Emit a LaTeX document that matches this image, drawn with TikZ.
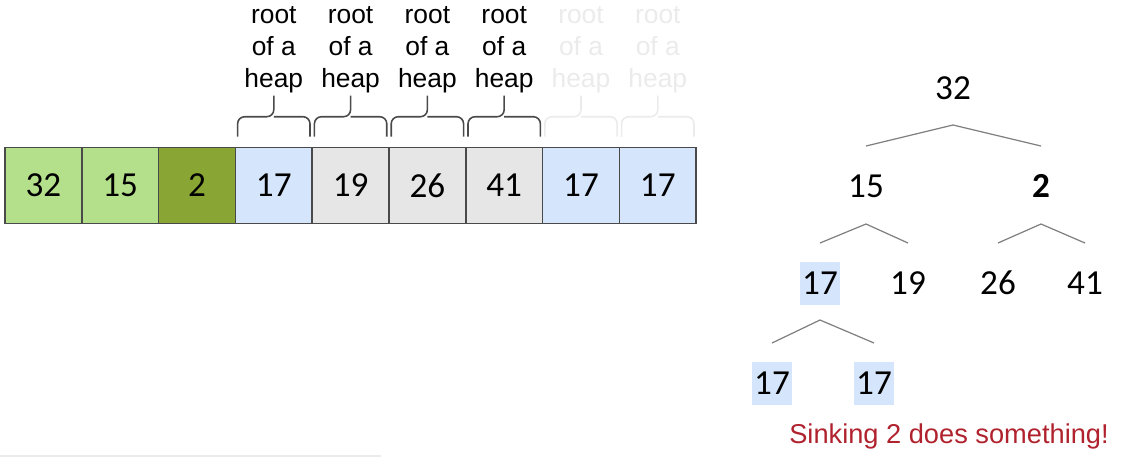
\documentclass[tikz,border=0pt]{standalone}
\usepackage{fontspec}
\setmainfont{Liberation Sans}
\newfontfamily\numfont{Carlito}
\usepackage{tikz}
\usetikzlibrary{positioning, calc}

\definecolor{cellgreen}{HTML}{B5E08B}
\definecolor{cellolive}{HTML}{89A634}
\definecolor{cellblue}{HTML}{D5E5FB}
\definecolor{cellgray}{HTML}{E6E6E6}
\definecolor{bordergray}{HTML}{4A4A4A}
\definecolor{fadegray}{HTML}{EBEBEB}
\definecolor{sinkred}{HTML}{B0232E}

\tikzset{
  cell/.style={rectangle, draw=bordergray, line width=0.9pt, minimum width=1.536cm, minimum height=1.52cm, inner sep=0pt, font=\numfont\fontsize{20}{24}\selectfont},
  heaplabel/.style={align=center, inner sep=0pt, font=\fontsize{15}{18.3}\selectfont},
  bracket/.style={draw=bordergray, line width=0.9pt, rounded corners=4pt},
  key/.style={inner sep=1pt, minimum width=0.7cm, minimum height=0.86cm, font=\numfont\fontsize{20}{24}\selectfont},
  hilite/.style={key, fill=cellblue},
  edge/.style={draw=gray, line width=0.7pt}
}

\begin{document}
\begin{tikzpicture}[x=0.02cm, y=-0.02cm]
  \useasboundingbox (0,0) rectangle (1130,458);

  % Array
  \foreach \val/\col [count=\i] in {32/cellgreen, 15/cellgreen, 2/cellolive, 17/cellblue, 19/cellgray, 26/cellgray, 41/cellgray, 17/cellblue, 17/cellblue}
    \node[cell, fill=\col] (c\i) at ({5+76.8*(\i-0.5)},185.5) {\val};

  % Braces and labels
  \foreach \i/\col/\txt in {4/bordergray/black, 5/bordergray/black, 6/bordergray/black, 7/bordergray/black, 8/fadegray/fadegray, 9/fadegray/fadegray} {
    \draw[bracket, draw=\col] ($(c\i.north west)+(3,-10)$) |- ($(c\i.north)+(0,-30)$) -- ($(c\i.north)+(0,-51)$);
    \draw[bracket, draw=\col] ($(c\i.north east)+(-3,-10)$) |- ($(c\i.north)+(0,-30)$);
    \node[heaplabel, text=\txt] (l\i) at ($(c\i.north)+(0,-97)$) {root\\of a\\heap};
  }

  % Tree
  \node[key] (n32) at (953,88) {32};
  \node[key] (n15) at (866,186) {15};
  \node[key] (n2) at (1041,186) {\bfseries 2};
  \node[hilite] (n17a) at (820,283) {17};
  \node[key] (n19) at (908,283) {19};
  \node[key] (n26) at (998,283) {26};
  \node[key] (n41) at (1085,283) {41};
  \node[hilite] (n17b) at (772,383) {17};
  \node[hilite] (n17c) at (874,383) {17};

  % Edges
  \draw[edge] ($(n15)+(0,-40)$) -- ($(n32)+(0,37)$) -- ($(n2)+(0,-40)$);
  \draw[edge] ($(n17a)+(0,-40)$) -- ($(n15)+(0,38)$) -- ($(n19)+(0,-40)$);
  \draw[edge] ($(n26)+(0,-40)$) -- ($(n2)+(0,38)$) -- ($(n41)+(0,-40)$);
  \draw[edge] ($(n17b)+(0,-40)$) -- ($(n17a)+(0,37)$) -- ($(n17c)+(0,-40)$);

  % Caption
  \node[text=sinkred, font=\fontsize{15.5}{18}\selectfont] (note) at (949,436) {Sinking 2 does something!};

  \draw[fadegray, line width=1.2pt] (0,456) -- (381,456);
\end{tikzpicture}
\end{document}
